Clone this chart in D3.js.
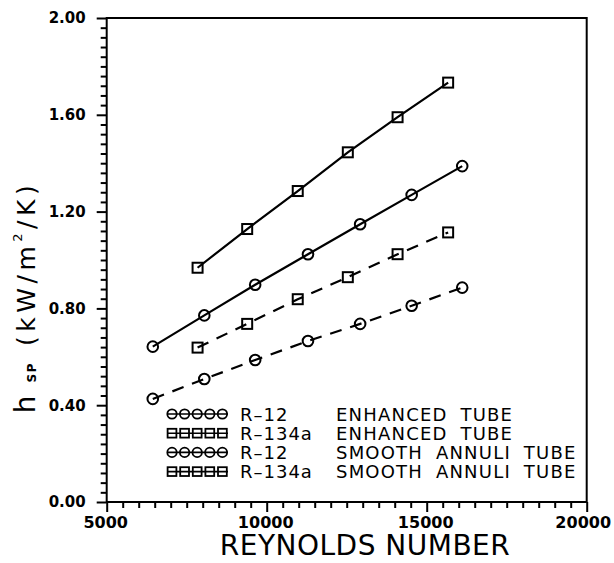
<!DOCTYPE html>
<html>
<head>
<meta charset="utf-8">
<script src="https://cdn.jsdelivr.net/npm/d3@7/dist/d3.min.js"></script>
<style>
  html, body { margin: 0; padding: 0; background: #fff; }
  svg { display: block; }
  text { fill: #000; }
</style>
</head>
<body>
<svg id="chart" width="614" height="563"></svg>
<script>
// Reynolds numbers of the test points
const reR12 = [6440, 8050, 9640, 11290, 12920, 14530, 16110];
const reR134a = [7840, 9390, 10970, 12535, 14090, 15670];

// Single-phase heat transfer coefficient, kW/m^2/K
const hR12Enhanced = [0.642, 0.771, 0.898, 1.024, 1.148, 1.269, 1.388];
const hR134aEnhanced = [0.968, 1.128, 1.285, 1.445, 1.590, 1.733];
const hR12Smooth = [0.426, 0.508, 0.587, 0.665, 0.736, 0.811, 0.886];
const hR134aSmooth = [0.638, 0.736, 0.838, 0.929, 1.024, 1.114];

// Axis ticks
const xMajorTicks = [5000, 10000, 15000, 20000];
const yMajorTicks = [0.0, 0.4, 0.8, 1.2, 1.6, 2.0];

// Legend entries
const legendNames = [
  { fluid: "R\u201312", tube: "ENHANCED TUBE", marker: "circle", dashed: false },
  { fluid: "R\u2013134a", tube: "ENHANCED TUBE", marker: "square", dashed: false },
  { fluid: "R\u201312", tube: "SMOOTH ANNULI TUBE", marker: "circle", dashed: true },
  { fluid: "R\u2013134a", tube: "SMOOTH ANNULI TUBE", marker: "square", dashed: true }
];

const series = [
  { re: reR134a, h: hR134aEnhanced, marker: "square", dashed: false },
  { re: reR12, h: hR12Enhanced, marker: "circle", dashed: false },
  { re: reR134a, h: hR134aSmooth, marker: "square", dashed: true },
  { re: reR12, h: hR12Smooth, marker: "circle", dashed: true }
];

const svg = d3.select("#chart");
const plot = { left: 106.7, right: 586.7, top: 18, bottom: 502 };

const x = d3.scaleLinear().domain([5000, 20000]).range([plot.left, plot.right]);
const y = d3.scaleLinear().domain([0, 2]).range([plot.bottom, plot.top]);

const FONT = "'DejaVu Sans', 'Liberation Sans', sans-serif";

// Minor ticks
const xMinor = d3.range(5000, 20001, 500).filter(v => !xMajorTicks.includes(v));
const yMinor = d3.range(0, 51).map(i => +(i * 0.04).toFixed(2))
  .filter(v => !yMajorTicks.some(m => Math.abs(m - v) < 1e-9));

function styleAxis(g) {
  g.select(".domain").remove();
  g.selectAll(".tick line").attr("stroke", "#000").attr("stroke-width", 2);
}

svg.append("g")
  .attr("transform", `translate(0,${plot.bottom})`)
  .call(d3.axisBottom(x).tickValues(xMinor).tickSize(6).tickFormat(""))
  .call(styleAxis);

svg.append("g")
  .attr("transform", `translate(0,${plot.bottom})`)
  .call(d3.axisBottom(x).tickValues(xMajorTicks).tickSize(10).tickPadding(4).tickFormat(d3.format("d")))
  .call(styleAxis)
  .call(g => g.selectAll(".tick text")
    .attr("font-family", FONT).attr("font-size", 16).attr("font-weight", "bold")
    .attr("dy", "0.72em")
    .attr("dx", d => d === 20000 ? -4 : -1.5));

svg.append("g")
  .attr("transform", `translate(${plot.left},0)`)
  .call(d3.axisLeft(y).tickValues(yMinor).tickSize(6).tickFormat(""))
  .call(styleAxis);

svg.append("g")
  .attr("transform", `translate(${plot.left},0)`)
  .call(d3.axisLeft(y).tickValues(yMajorTicks).tickSize(10).tickPadding(11).tickFormat(d3.format(".2f")))
  .call(styleAxis)
  .call(g => g.selectAll(".tick text")
    .attr("font-family", FONT).attr("font-size", 15).attr("font-weight", "bold"));

// Frame
svg.append("rect")
  .attr("x", plot.left).attr("y", plot.top)
  .attr("width", plot.right - plot.left).attr("height", plot.bottom - plot.top)
  .attr("fill", "none").attr("stroke", "#000").attr("stroke-width", 2);

// Data lines
const line = d3.line().x(d => x(d[0])).y(d => y(d[1]));

function drawMarker(sel, kind, r) {
  if (kind === "circle") {
    sel.append("circle").attr("r", r);
  } else {
    sel.append("rect").attr("x", -r + 0.3).attr("y", -r + 0.3)
      .attr("width", 2 * r - 0.6).attr("height", 2 * r - 0.6);
  }
}

series.forEach(s => {
  const pts = s.re.map((r, i) => [r, s.h[i]]);
  svg.append("path")
    .datum(pts)
    .attr("d", line)
    .attr("fill", "none")
    .attr("stroke", "#000")
    .attr("stroke-width", 2.2)
    .attr("stroke-dasharray", s.dashed ? "12,9" : null);

  const g = svg.append("g")
    .attr("fill", "none").attr("stroke", "#000").attr("stroke-width", 2);
  pts.forEach(p => {
    const m = g.append("g").attr("transform", `translate(${x(p[0])},${y(p[1])})`);
    drawMarker(m, s.marker, 5.3);
  });
});

// Legend
const legend = svg.append("g");
legendNames.forEach((d, i) => {
  const cy = 414 + i * 19.2;
  const row = legend.append("g").attr("transform", `translate(0,${cy})`);
  row.append("line")
    .attr("x1", 167).attr("x2", 228).attr("y1", 0).attr("y2", 0)
    .attr("stroke", "#000").attr("stroke-width", 1.6);
  const mk = row.append("g").attr("fill", "none").attr("stroke", "#000").attr("stroke-width", 1.8);
  for (let k = 0; k < 5; k++) {
    const m = mk.append("g").attr("transform", `translate(${172 + k * 12.6},0)`);
    drawMarker(m, d.marker, 4.7);
  }
  row.append("text")
    .attr("x", 240).attr("y", 6.6)
    .attr("font-family", FONT).attr("font-size", 18)
    .attr("letter-spacing", 1)
    .text(d.fluid);
  row.append("text")
    .attr("x", 336).attr("y", 6.6)
    .attr("font-family", FONT).attr("font-size", 18)
    .attr("letter-spacing", 1.2)
    .attr("word-spacing", 6)
    .text(d.tube);
});

// X axis title
svg.append("text")
  .attr("x", 365).attr("y", 555)
  .attr("text-anchor", "middle")
  .attr("font-family", FONT).attr("font-size", 28)
  .attr("letter-spacing", 0.5)
  .text("REYNOLDS NUMBER");

// Y axis title: h_SP (kW/m^2/K)
const yt = svg.append("text")
  .attr("transform", "translate(35,297) rotate(-90)")
  .attr("text-anchor", "middle")
  .attr("font-family", FONT).attr("font-size", 25);
yt.append("tspan").attr("font-size", 28).text("h");
yt.append("tspan").attr("font-size", 12).attr("font-weight", "bold")
  .attr("dx", 13).attr("dy", 1).attr("letter-spacing", 1.5).text("SP");
yt.append("tspan").attr("dy", -1).attr("dx", 16).attr("letter-spacing", 4.5).text("(kW/m");
yt.append("tspan").attr("font-size", 13).attr("dy", -13).attr("letter-spacing", 4.5).text("2");
yt.append("tspan").attr("dy", 13).attr("letter-spacing", 4.5).text("/K)");
</script>
</body>
</html>
